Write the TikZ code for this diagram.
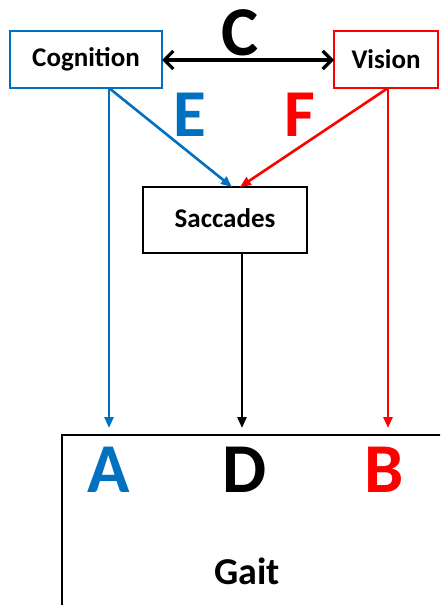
\documentclass[tikz,border=0pt]{standalone}
\usepackage{fontspec}
\setmainfont{Carlito}
\usetikzlibrary{arrows.meta}
\definecolor{cblue}{HTML}{0070C0}
\definecolor{cred}{HTML}{FF0000}
\tikzset{
  box/.style={draw, line width=2.3pt, fill=white, inner sep=0pt, font=\fontsize{27}{30}\selectfont\bfseries},
  big/.style={inner sep=0pt, font=\fontsize{70}{80}\selectfont\bfseries},
  link/.style={line width=2.6pt, -{Triangle[length=11pt,width=9pt]}},
  dlink/.style={line width=3.2pt, {Straight Barb[length=9pt,width=18pt]}-{Straight Barb[length=9pt,width=18pt]}}
}
\begin{document}
\begin{tikzpicture}[x=1pt,y=-1pt]
\useasboundingbox (0,0) rectangle (440,605);
\clip (0,0) rectangle (440,605);
% nodes
\node[box, draw=cblue, minimum width=152pt, minimum height=57pt] (cog) at (86,59.5) {Cognition};
\node[box, draw=cred, minimum width=104pt, minimum height=57pt] (vis) at (386,59.5) {Vision};
\node[box, draw=black, minimum width=164pt, minimum height=66pt] (sac) at (225,220) {\raisebox{4pt}{Saccades}};
\node[draw=black, line width=2.3pt, inner sep=0pt, minimum width=384pt, minimum height=176pt, anchor=north west] (gait) at (61,434) {};
\node[inner sep=0pt, font=\fontsize{38}{44}\selectfont\bfseries] (gaitlbl) at (247,571) {Gait};
% labels
\node[big] (lC) at (240,33) {C};
\node[big, text=cblue, font=\fontsize{67}{78}\selectfont\bfseries] (lE) at (190,115) {E};
\node[big, text=cred, font=\fontsize{67}{78}\selectfont\bfseries] (lF) at (300,115) {F};
\node[big, text=cblue] (lA) at (109,470) {A};
\node[big] (lD) at (245,470) {D};
\node[big, text=cred] (lB) at (384,470) {B};
% coordinates
\coordinate (cogout) at (109,88);
\coordinate (visout) at (388,88);
\coordinate (sacE) at (232,187);
\coordinate (sacF) at (240,187);
\coordinate (sacout) at (242,253);
\coordinate (tA) at (109,428);
\coordinate (tD) at (242,428);
\coordinate (tB) at (388,428);
\coordinate (cL) at (162,60);
\coordinate (cR) at (334,60);
% connectors
\draw[dlink] (cL) -- (cR);
\draw[link, cblue] (cogout) -- (sacE);
\draw[link, cred] (visout) -- (sacF);
\draw[link, cblue] (cogout) -- (tA);
\draw[link, cred] (visout) -- (tB);
\draw[link, black] (sacout) -- (tD);
\end{tikzpicture}
\end{document}
